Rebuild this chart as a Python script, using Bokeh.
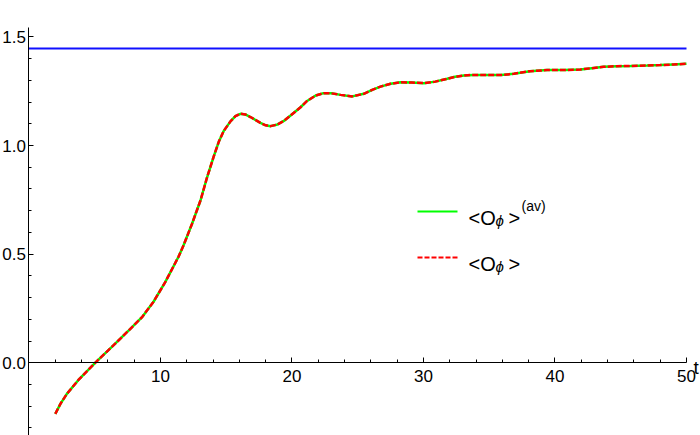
from bokeh.plotting import figure
from bokeh.models import Range1d, LinearAxis, FixedTicker, PrintfTickFormatter, Arrow
from bokeh.core.properties import value
from bokeh.embed import file_html
from bokeh.resources import INLINE

# ---- data ----
t_vals = [2.0, 2.4, 2.88, 3.76, 5.03, 6.3, 7.57, 8.58, 9.47, 10.35, 11.37, 11.77, 12.4,
          13.04, 13.55, 14.05, 14.45, 14.8, 15.32, 15.7, 16.08, 16.45, 16.84, 17.6, 18.0,
          18.37, 18.9, 19.38, 19.89, 20.65, 21.15, 21.8, 22.4, 23.0, 23.69, 24.58, 25.46,
          26.1, 26.73, 27.5, 28.25, 29.1, 30.03, 30.9, 31.8, 32.4, 33.07, 33.8, 34.5, 35.1,
          35.86, 36.87, 38.1, 39.4, 40.7, 41.94, 42.8, 43.7, 44.7, 45.74, 47.0, 48.0, 49.0, 50.0]
o_av = [-0.235, -0.188, -0.143, -0.079, 0.0, 0.073, 0.148, 0.209, 0.281, 0.37, 0.488, 0.543, 0.64,
        0.747, 0.855, 0.95, 1.02, 1.066, 1.111, 1.135, 1.146, 1.143, 1.131, 1.104, 1.093,
        1.089, 1.097, 1.113, 1.138, 1.176, 1.205, 1.230, 1.241, 1.240, 1.233, 1.226, 1.238,
        1.256, 1.271, 1.284, 1.291, 1.290, 1.287, 1.294, 1.307, 1.316, 1.322, 1.325, 1.325, 1.324,
        1.324, 1.330, 1.342, 1.347, 1.347, 1.350, 1.356, 1.362, 1.365, 1.366, 1.368, 1.370, 1.373, 1.376]
o_phi = list(o_av)
ref_t = [0.0, 50.0]
ref_level = [1.446, 1.446]

x_major = [10, 20, 30, 40, 50]
x_minor = [v for v in range(2, 50, 2) if v % 10 != 0]
y_major = [0.0, 0.5, 1.0, 1.5]
y_minor = [-0.3, -0.2, -0.1, 0.1, 0.2, 0.3, 0.4, 0.6, 0.7, 0.8, 0.9, 1.1, 1.2, 1.3, 1.4]

# ---- layout ----
W, H = 700, 435
X0, X1 = -2.167, 51.065
Y0, Y1 = -0.3346, 1.6673
FONT = "Liberation Sans"

def dx(px):
    return X0 + px / W * (X1 - X0)

def dy(py):
    return Y1 - py / H * (Y1 - Y0)

p = figure(width=W, height=H, output_backend="svg", toolbar_location=None,
           x_range=Range1d(X0, X1), y_range=Range1d(Y0, Y1),
           x_axis_type=None, y_axis_type=None, min_border=0)
p.outline_line_color = None
p.background_fill_color = "white"
p.border_fill_color = "white"

xa = LinearAxis(fixed_location=0, bounds=(0, 50),
                ticker=FixedTicker(ticks=x_major, minor_ticks=x_minor))
xa.major_tick_in = 5
xa.major_tick_out = 0
xa.minor_tick_in = 3
xa.minor_tick_out = 0
xa.major_label_standoff = 7
xa.major_label_text_font = FONT
xa.major_label_text_font_size = "17px"
xa.major_label_text_color = "black"
xa.axis_line_color = "black"
p.add_layout(xa, "below")

ya = LinearAxis(fixed_location=0, bounds=(-0.34, 1.543),
                ticker=FixedTicker(ticks=y_major, minor_ticks=y_minor),
                formatter=PrintfTickFormatter(format="%.1f"))
ya.major_tick_in = 5
ya.major_tick_out = 0
ya.minor_tick_in = 3
ya.minor_tick_out = 0
ya.major_label_standoff = 3
ya.major_label_text_font = FONT
ya.major_label_text_font_size = "17px"
ya.major_label_text_color = "black"
ya.axis_line_color = "black"
p.add_layout(ya, "left")

p.line(ref_t, ref_level, line_color="#1010ff", line_width=2)
p.line(t_vals, o_av, line_color="#00ff00", line_width=2.5)
p.line(t_vals, o_phi, line_color="#ff0000", line_width=2.5, line_dash="6 2")

def txt(px, py, s, size, style="normal"):
    p.text(x=[dx(px)], y=[dy(py)], text=[s], text_font=value(FONT),
           text_font_size=value(size), text_font_style=style,
           text_baseline="alphabetic", text_align="left", text_color="black")

# axis label t
txt(693, 367, "t", "19px")

# legend samples
p.add_layout(Arrow(x_start=dx(417), y_start=dy(211), x_end=dx(457), y_end=dy(211),
                   start=None, end=None, line_color="#00ff00", line_width=2))
p.add_layout(Arrow(x_start=dx(417), y_start=dy(257), x_end=dx(457), y_end=dy(257),
                   start=None, end=None, line_color="#ff0000", line_width=2, line_dash="5 2"))

def legend_text(px, base):
    txt(px, base, "<O", "20px")
    txt(px + 27, base + 3, "ϕ", "15px", "italic")
    txt(px + 40, base, ">", "20px")

legend_text(468, 217)
txt(521, 205, "(av)", "14px")
legend_text(468, 263)

open("out.html", "w").write(file_html(p, INLINE))
